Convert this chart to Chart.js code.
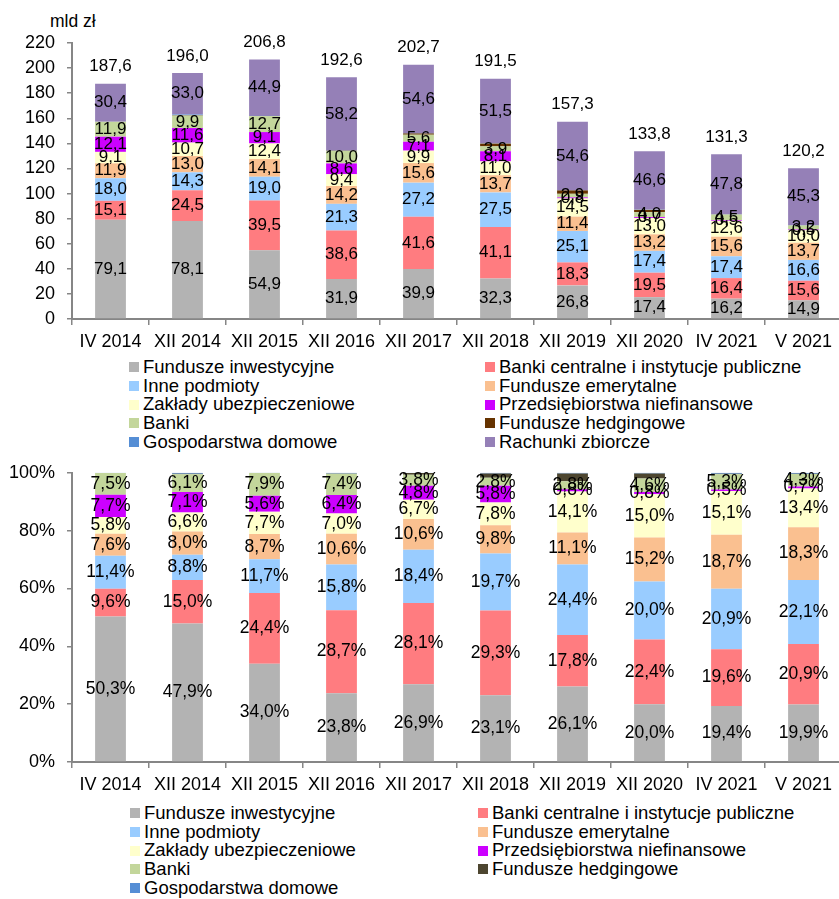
<!DOCTYPE html>
<html lang="pl">
<head>
  <meta charset="UTF-8" />
  <title>Struktura inwestorów</title>
  <script src="https://cdn.jsdelivr.net/npm/chart.js"></script>
  <style>
    body {
      margin: 0;
      width: 839px;
      height: 899px;
      overflow: hidden;
      background: #fff;
      position: relative;
      font-family: 'Liberation Sans', Arial, sans-serif;
      color: #000;
    }
    .box {
      position: absolute;
      left: 0;
      width: 846px;
    }
    #topBox { top: 0; height: 352px; }
    #bottomBox { top: 450px; height: 345px; }
    .unit {
      position: absolute;
      left: 50px;
      top: 11px;
      font-size: 17.5px;
    }
    .legend {
      position: absolute;
      display: grid;
      font-size: 18.5px;
      line-height: 18.7px;
    }
    #topLegend { left: 129px; top: 358px; grid-template-columns: 356px auto; }
    #bottomLegend { left: 130px; top: 804px; grid-template-columns: 348px auto; }
    .legend span.item { display: flex; align-items: center; white-space: nowrap; }
    .legend i {
      display: inline-block;
      width: 10px;
      height: 10px;
      margin-right: 4px;
    }
  </style>
</head>
<body>

  <div class="unit">mld zł</div>
  <div class="box" id="topBox"><canvas id="amountChart"></canvas></div>
  <div class="legend" id="topLegend"></div>

  <div class="box" id="bottomBox"><canvas id="shareChart"></canvas></div>
  <div class="legend" id="bottomLegend"></div>

  <script>
    const categories = ['IV 2014', 'XII 2014', 'XII 2015', 'XII 2016', 'XII 2017', 'XII 2018', 'XII 2019', 'XII 2020', 'IV 2021', 'V 2021'];

    const seriesNames = [
      'Fundusze inwestycyjne', 'Banki centralne i instytucje publiczne', 'Inne podmioty',
      'Fundusze emerytalne', 'Zakłady ubezpieczeniowe', 'Przedsiębiorstwa niefinansowe',
      'Banki', 'Fundusze hedgingowe', 'Gospodarstwa domowe', 'Rachunki zbiorcze'
    ];
    const colors = ['#b3b3b3', '#ff7c80', '#99ccff', '#fac090', '#ffffcc', '#cc00ff', '#c3d69b', '#663300', '#558ed5', '#9580b7'];
    const hedgeColorShare = '#4d4630';

    // mld zł
    const fundInv   = [79.1, 78.1, 54.9, 31.9, 39.9, 32.3, 26.8, 17.4, 16.2, 14.9];
    const central   = [15.1, 24.5, 39.5, 38.6, 41.6, 41.1, 18.3, 19.5, 16.4, 15.6];
    const others    = [18.0, 14.3, 19.0, 21.3, 27.2, 27.5, 25.1, 17.4, 17.4, 16.6];
    const pension   = [11.9, 13.0, 14.1, 14.2, 15.6, 13.7, 11.4, 13.2, 15.6, 13.7];
    const insurance = [9.1, 10.7, 12.4, 9.4, 9.9, 11.0, 14.5, 13.0, 12.6, 10.0];
    const companies = [12.1, 11.6, 9.1, 8.6, 7.1, 8.1, 0.8, 0.7, 0.5, 0.5];
    const banks     = [11.9, 9.9, 12.7, 10.0, 5.6, 3.9, 2.9, 4.0, 4.5, 3.2];
    const hedge     = [0.0, 0.3, 0.1, 0.2, 1.0, 2.2, 2.7, 1.8, 0.1, 0.1];
    const household = [0.0, 0.6, 0.1, 0.2, 0.2, 0.2, 0.2, 0.2, 0.2, 0.3];
    const omnibus   = [30.4, 33.0, 44.9, 58.2, 54.6, 51.5, 54.6, 46.6, 47.8, 45.3];
    const totals    = [187.6, 196.0, 206.8, 192.6, 202.7, 191.5, 157.3, 133.8, 131.3, 120.2];

    // udział w % (bez rachunków zbiorczych)
    const fundInvPct   = [50.3, 47.9, 34.0, 23.8, 26.9, 23.1, 26.1, 20.0, 19.4, 19.9];
    const centralPct   = [9.6, 15.0, 24.4, 28.7, 28.1, 29.3, 17.8, 22.4, 19.6, 20.9];
    const othersPct    = [11.4, 8.8, 11.7, 15.8, 18.4, 19.7, 24.4, 20.0, 20.9, 22.1];
    const pensionPct   = [7.6, 8.0, 8.7, 10.6, 10.6, 9.8, 11.1, 15.2, 18.7, 18.3];
    const insurancePct = [5.8, 6.6, 7.7, 7.0, 6.7, 7.8, 14.1, 15.0, 15.1, 13.4];
    const companiesPct = [7.7, 7.1, 5.6, 6.4, 4.8, 5.8, 0.8, 0.8, 0.5, 0.7];
    const banksPct     = [7.5, 6.1, 7.9, 7.4, 3.8, 2.8, 2.8, 4.6, 5.3, 4.3];
    const hedgePct     = [0.0, 0.2, 0.0, 0.1, 0.6, 1.5, 2.7, 1.8, 0.2, 0.1];
    const householdPct = [0.1, 0.3, 0.1, 0.2, 0.1, 0.2, 0.2, 0.2, 0.3, 0.3];

    const amountSeries = [fundInv, central, others, pension, insurance, companies, banks, hedge, household, omnibus];
    const shareSeries = [fundInvPct, centralPct, othersPct, pensionPct, insurancePct, companiesPct, banksPct, hedgePct, householdPct];
    const unlabeled = ['Fundusze hedgingowe', 'Gospodarstwa domowe'];

    const FONT = "'Liberation Sans', Arial, sans-serif";
    const AXIS = '#868686';

    const fmt = v => v.toFixed(1).replace('.', ',');

    // labels in the middle of each segment, and totals above the stack
    const valueLabels = {
      id: 'valueLabels',
      afterDatasetsDraw(chart, args, opts) {
        const ctx = chart.ctx;
        ctx.save();
        ctx.font = opts.size + 'px ' + FONT;
        ctx.fillStyle = '#000';
        ctx.textAlign = 'center';
        ctx.textBaseline = 'middle';
        chart.data.datasets.forEach((ds, i) => {
          if (unlabeled.includes(ds.label)) return;
          chart.getDatasetMeta(i).data.forEach((bar, j) => {
            ctx.fillText(fmt(ds.data[j]) + opts.suffix, bar.x, (bar.y + bar.base) / 2);
          });
        });
        if (opts.totals) {
          const last = chart.getDatasetMeta(chart.data.datasets.length - 1);
          last.data.forEach((bar, j) => {
            ctx.fillText(fmt(opts.totals[j]), bar.x, bar.y - 17);
          });
        }
        ctx.restore();
      }
    };

    function makeChart(id, series, yMax, suffix, padTop, totalsArr, hedgeCol, labelSize) {
      return new Chart(document.getElementById(id), {
        type: 'bar',
        data: {
          labels: categories,
          datasets: series.map((data, i) => ({
            label: seriesNames[i],
            data: data,
            backgroundColor: (i === 7 && hedgeCol) ? hedgeCol : colors[i],
            borderWidth: 0,
            categoryPercentage: 1,
            barPercentage: 0.4
          }))
        },
        options: {
          responsive: true,
          maintainAspectRatio: false,
          animation: false,
          layout: { padding: { top: padTop, right: 4, left: 0, bottom: 0 } },
          plugins: {
            legend: { display: false },
            tooltip: { enabled: false },
            valueLabels: { suffix: suffix, totals: totalsArr, size: labelSize }
          },
          scales: {
            x: {
              stacked: true,
              grid: { drawOnChartArea: false, drawTicks: true, tickLength: 6, color: AXIS, lineWidth: 1.5 },
              border: { color: AXIS, width: 2 },
              ticks: { color: '#000', font: { size: 18, family: FONT }, padding: 6, maxRotation: 0 },
              afterFit: s => { s.height = 33; }
            },
            y: {
              stacked: true,
              min: 0,
              max: yMax,
              grid: { drawOnChartArea: false, drawTicks: true, tickLength: 5, color: AXIS, lineWidth: 1.5 },
              border: { color: AXIS, width: 2 },
              ticks: {
                stepSize: 20,
                color: '#000',
                font: { size: 18, family: FONT },
                padding: 12,
                callback: v => v + suffix
              },
              afterFit: s => { s.width = 72; }
            }
          }
        },
        plugins: [valueLabels]
      });
    }

    function buildLegend(id, count, hedgeCol) {
      const box = document.getElementById(id);
      for (let i = 0; i < count; i++) {
        const c = (i === 7 && hedgeCol) ? hedgeCol : colors[i];
        box.innerHTML += `<span class="item"><i style="background:${c}"></i>${seriesNames[i]}</span>`;
      }
    }

    makeChart('amountChart', amountSeries, 220, '', 43, totals, null, 17);
    makeChart('shareChart', shareSeries, 100, '%', 18, null, hedgeColorShare, 17.5);
    buildLegend('topLegend', 10, null);
    buildLegend('bottomLegend', 9, hedgeColorShare);
  </script>
</body>
</html>
